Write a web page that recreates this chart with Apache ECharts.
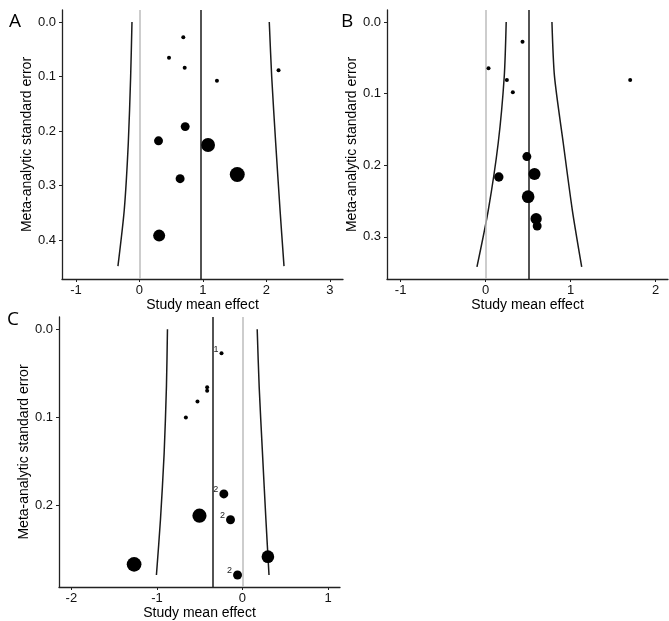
<!DOCTYPE html>
<html><head><meta charset="utf-8">
<script src="https://cdn.jsdelivr.net/npm/echarts@6/dist/echarts.min.js"></script>
<style>html,body{margin:0;padding:0;background:#fff}#c{width:669px;height:621px}</style>
</head><body><div id="c"></div>
<script>
// ---------- Panel A ----------
const effA = [0.69, 0.465, 0.712, 1.22, 2.19, 0.72, 0.30, 1.08, 0.64, 1.54, 0.31];
const seA  = [0.028, 0.0655, 0.0839, 0.1077, 0.0886, 0.192, 0.218, 0.2257, 0.2875, 0.280, 0.392];
const wA   = [1, 1, 1, 1, 1, 5, 5, 12, 5, 14, 9];
const meanA = 0.97;
const funnelSeA = [0, 0.1, 0.222, 0.344, 0.448];
const funnelLoA = [-0.118, -0.139, -0.176, -0.239, -0.339];
const funnelHiA = [2.044, 2.082, 2.145, 2.213, 2.276];
const xTicksA = [-1, 0, 1, 2, 3];
const yTicksA = [0, 0.1, 0.2, 0.3, 0.4];

// ---------- Panel B ----------
const effB = [0.434, 0.034, 0.25, 0.32, 1.70, 0.485, 0.155, 0.575, 0.50, 0.594, 0.606];
const seB  = [0.0275, 0.0647, 0.081, 0.098, 0.081, 0.188, 0.2165, 0.2124, 0.244, 0.2748, 0.285];
const wB   = [1, 1, 1, 1, 1, 5, 5.5, 9, 10, 8, 5];
const meanB = 0.51;
const funnelSeB = [0, 0.076, 0.169, 0.263, 0.342];
const funnelLoB = [0.242, 0.219, 0.148, 0.031, -0.102];
const funnelHiB = [0.78, 0.81, 0.913, 1.02, 1.13];
const xTicksB = [-1, 0, 1, 2];
const yTicksB = [0, 0.1, 0.2, 0.3];

// ---------- Panel C ----------
const effC = [-0.245, -0.413, -0.413, -0.526, -0.662, -0.218, -0.503, -0.14, -1.267, 0.297, -0.058];
const seC  = [0.0272, 0.0658, 0.0696, 0.082, 0.100, 0.1867, 0.2113, 0.216, 0.2665, 0.2578, 0.2786];
const wC   = [1, 1, 1, 1, 1, 5, 12.5, 5, 13.5, 10, 5];
const labelsC = ['1', '', '', '', '', '2', '', '2', '', '', '2'];
const meanC = -0.35;
const funnelSeC = [0, 0.065, 0.141, 0.216, 0.2786];
const funnelLoC = [-0.877, -0.889, -0.916, -0.959, -1.006];
const funnelHiC = [0.172, 0.195, 0.234, 0.274, 0.31];
const xTicksC = [-2, -1, 0, 1];
const yTicksC = [0, 0.1, 0.2];

const xTitle = 'Study mean effect';
const yTitle = 'Meta-analytic standard error';
const panelLetters = ['A', 'B', 'C'];

const FONT = '"Liberation Sans", Arial, sans-serif';
const panels = [
  {eff: effA, se: seA, w: wA, mean: meanA, fSe: funnelSeA, fLo: funnelLoA, fHi: funnelHiA,
   xTicks: xTicksA, yTicks: yTicksA, labels: null,
   xMin: -1.22, xMax: 3.205, yMin: -0.022, yMax: 0.4716,
   grid: {left: 62, top: 10, width: 281, height: 269}, letterPos: [9, 12]},
  {eff: effB, se: seB, w: wB, mean: meanB, fSe: funnelSeB, fLo: funnelLoB, fHi: funnelHiB,
   xTicks: xTicksB, yTicks: yTicksB, labels: null,
   xMin: -1.16, xMax: 2.145, yMin: -0.0168, yMax: 0.359,
   grid: {left: 387, top: 10, width: 281, height: 269}, letterPos: [341, 12]},
  {eff: effC, se: seC, w: wC, mean: meanC, fSe: funnelSeC, fLo: funnelLoC, fHi: funnelHiC,
   xTicks: xTicksC, yTicks: yTicksC, labels: labelsC,
   xMin: -2.145, xMax: 1.14, yMin: -0.0139, yMax: 0.2922,
   grid: {left: 59, top: 317, width: 281, height: 270}, letterPos: [7, 310]}
];

const grids = [], xAxes = [], yAxes = [], series = [], graphics = [];
panels.forEach((p, i) => {
  grids.push(Object.assign({}, p.grid));
  xAxes.push({
    gridIndex: i, type: 'value', min: p.xMin, max: p.xMax,
    axisLine: {show: true, onZero: false, lineStyle: {color: '#222', width: 1.3}},
    axisTick: {show: true, length: 3, customValues: p.xTicks, lineStyle: {color: '#222', width: 1}},
    axisLabel: {customValues: p.xTicks, margin: 5, fontSize: 13, color: '#111', fontFamily: FONT,
      formatter: v => String(v)},
    splitLine: {show: false},
    name: xTitle, nameLocation: 'middle', nameGap: 17,
    nameTextStyle: {fontSize: 14, color: '#000', fontFamily: FONT}
  });
  yAxes.push({
    gridIndex: i, type: 'value', inverse: true, min: p.yMin, max: p.yMax,
    axisLine: {show: true, onZero: false, lineStyle: {color: '#222', width: 1.3}},
    axisTick: {show: true, length: 3, customValues: p.yTicks, lineStyle: {color: '#222', width: 1}},
    axisLabel: {customValues: p.yTicks, margin: 6, fontSize: 13, color: '#111', fontFamily: FONT,
      formatter: v => Number(v).toFixed(1)},
    splitLine: {show: false},
    name: yTitle, nameLocation: 'middle', nameGap: 24,
    nameTextStyle: {fontSize: 14, color: '#000', fontFamily: FONT}
  });
  const lineStyle = {color: '#1a1a1a', width: 1.5};
  series.push({
    type: 'line', xAxisIndex: i, yAxisIndex: i, z: 2, silent: true,
    data: p.fSe.map((s, k) => [p.fLo[k], s]), smooth: 0.25, symbol: 'none', lineStyle,
    markLine: {silent: true, symbol: 'none', label: {show: false},
      data: [
        {xAxis: 0, lineStyle: {color: '#bdbdbd', width: 1.5, type: 'solid'}},
        {xAxis: p.mean, lineStyle: {color: '#1a1a1a', width: 1.5, type: 'solid'}}
      ]}
  });
  series.push({
    type: 'line', xAxisIndex: i, yAxisIndex: i, z: 2, silent: true,
    data: p.fSe.map((s, k) => [p.fHi[k], s]), smooth: 0.25, symbol: 'none', lineStyle
  });
  const sc = {
    type: 'scatter', xAxisIndex: i, yAxisIndex: i, z: 5,
    data: p.eff.map((e, k) => [e, p.se[k], p.w[k]]),
    symbolSize: v => 4 * Math.sqrt(v[2]),
    itemStyle: {color: '#000', opacity: 1}
  };
  if (p.labels) {
    const labs = p.labels;
    sc.label = {show: true, formatter: q => labs[q.dataIndex], position: 'left', distance: 1,
      offset: [0, -4], fontSize: 9, color: '#222', fontFamily: FONT};
  }
  series.push(sc);
  graphics.push({type: 'text', left: p.letterPos[0], top: p.letterPos[1],
    style: {text: panelLetters[i], fontSize: 19, fill: '#000', fontFamily: '"Open Sans", sans-serif'}});
});

const chart = echarts.init(document.getElementById('c'));
chart.setOption({
  animation: false,
  backgroundColor: '#fff',
  grid: grids, xAxis: xAxes, yAxis: yAxes, series: series, graphic: graphics
});
</script>
</body></html>
